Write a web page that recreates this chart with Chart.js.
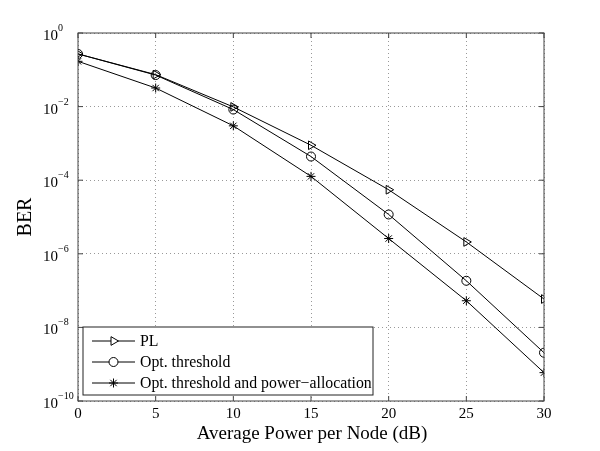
<!DOCTYPE html>
<html>
<head>
<meta charset="utf-8">
<script src="https://cdn.jsdelivr.net/npm/chart.js@4.4.1/dist/chart.umd.min.js"></script>
<style>
  html, body { margin: 0; padding: 0; background: #fff; }
  #wrap { width: 600px; height: 451px; position: relative; }
</style>
</head>
<body>
<div id="wrap"><canvas id="myChart"></canvas></div>
<script>
// datos
let powerDb = [0, 5, 10, 15, 20, 25, 30];
let berPL = [0.27, 0.074, 0.0098, 8.9e-4, 5.5e-5, 2.1e-6, 5.9e-8];
let berOpt = [0.27, 0.072, 0.0083, 4.4e-4, 1.17e-5, 1.85e-7, 2.05e-9];
let berOptPA = [0.17, 0.032, 0.003, 1.27e-4, 2.6e-6, 5.3e-8, 5.9e-10];
let seriesNames = ['PL', 'Opt. threshold', 'Opt. threshold and power\u2212allocation'];
let xTicks = [0, 5, 10, 15, 20, 25, 30];
let yExponents = [0, -2, -4, -6, -8, -10];

const ctx = document.getElementById('myChart');
const serif = '"Liberation Serif", "DejaVu Serif", serif';

function toPoints(ys) {
  return powerDb.map((x, i) => ({ x: x, y: ys[i] }));
}

function serie(label, ys, style, radius, rot) {
  return {
    label: label,
    data: toPoints(ys),
    borderColor: '#000',
    borderWidth: 1,
    pointStyle: style,
    pointRadius: radius,
    pointRotation: rot,
    pointBorderColor: '#000',
    pointBorderWidth: 1,
    pointBackgroundColor: 'rgba(0,0,0,0)',
    fill: false,
    tension: 0
  };
}

/* Marco, marcas, etiquetas y leyenda */
const decoracion = {
  id: 'decoracion',
  afterDraw(chart) {
    const c = chart.ctx;
    const a = chart.chartArea;
    const xs = chart.scales.x;
    const ys = chart.scales.y;
    c.save();

    // caja
    c.strokeStyle = '#444';
    c.lineWidth = 1;
    c.strokeRect(a.left, a.top, a.right - a.left, a.bottom - a.top);

    // marcas interiores
    c.beginPath();
    xTicks.forEach(v => {
      let px = xs.getPixelForValue(v);
      c.moveTo(px, a.bottom); c.lineTo(px, a.bottom - 5);
      c.moveTo(px, a.top); c.lineTo(px, a.top + 5);
    });
    yExponents.forEach(e => {
      let py = ys.getPixelForValue(Math.pow(10, e));
      c.moveTo(a.left, py); c.lineTo(a.left + 5, py);
      c.moveTo(a.right, py); c.lineTo(a.right - 5, py);
    });
    c.stroke();

    // etiquetas eje x
    c.fillStyle = '#000';
    c.font = '15px ' + serif;
    c.textAlign = 'center';
    c.textBaseline = 'middle';
    xTicks.forEach(v => {
      c.fillText(String(v), xs.getPixelForValue(v), a.bottom + 13);
    });

    // etiquetas eje y (10 con exponente)
    yExponents.forEach(e => {
      let py = ys.getPixelForValue(Math.pow(10, e));
      c.textAlign = 'left';
      c.textBaseline = 'alphabetic';
      c.font = '15px ' + serif;
      c.fillText('10', 43, py + 7);
      c.font = '10px ' + serif;
      let txt = e < 0 ? '\u2212' + Math.abs(e) : String(e);
      c.fillText(txt, 58, py - 2);
    });

    // titulos
    c.font = '19px ' + serif;
    c.textAlign = 'center';
    c.textBaseline = 'middle';
    c.fillText('Average Power per Node (dB)', (a.left + a.right) / 2 + 1, 434);
    c.save();
    c.translate(26, (a.top + a.bottom) / 2);
    c.rotate(-Math.PI / 2);
    c.font = '20px ' + serif;
    c.fillText('BER', 0, 0);
    c.restore();

    // leyenda
    let lx = 83, ly = 327, lw = 290, lh = 68;
    c.fillStyle = '#fff';
    c.fillRect(lx, ly, lw, lh);
    c.strokeStyle = '#222';
    c.strokeRect(lx, ly, lw, lh);
    let rows = [341, 362, 383];
    chart.data.datasets.forEach((ds, i) => {
      let yy = rows[i];
      c.strokeStyle = '#000';
      c.lineWidth = 1;
      c.beginPath();
      c.moveTo(92, yy); c.lineTo(135, yy);
      c.stroke();
      c.fillStyle = '#fff';
      Chart.helpers.drawPoint(c, {
        pointStyle: ds.pointStyle,
        radius: ds.pointRadius,
        rotation: ds.pointRotation,
        borderWidth: 1
      }, 113.5, yy);
      c.fillStyle = '#000';
      c.font = '15.8px ' + serif;
      c.textAlign = 'left';
      c.textBaseline = 'middle';
      c.fillText(ds.label, 140, yy + 1);
    });
    c.restore();
  }
};

function start_chart() {
  const config = {
    type: 'line',
    data: {
      datasets: [
        serie(seriesNames[0], berPL, 'triangle', 5, 90),
        serie(seriesNames[1], berOpt, 'circle', 4.5, 0),
        serie(seriesNames[2], berOptPA, 'star', 4.5, 0)
      ]
    },
    options: {
      responsive: false,
      animation: false,
      devicePixelRatio: 1,
      layout: { padding: { left: 78, right: 56, top: 33, bottom: 50 } },
      plugins: { legend: { display: false }, tooltip: { enabled: false } },
      scales: {
        x: {
          type: 'linear',
          min: 0,
          max: 30,
          ticks: { stepSize: 5, display: false },
          grid: { color: '#999', drawTicks: false, lineWidth: 1 },
          border: { display: false, dash: [1, 3] }
        },
        y: {
          type: 'logarithmic',
          min: 1e-10,
          max: 1,
          afterBuildTicks: function (scale) {
            scale.ticks = yExponents.map(e => ({ value: Math.pow(10, e) }));
          },
          ticks: { display: false },
          grid: { color: '#999', drawTicks: false, lineWidth: 1 },
          border: { display: false, dash: [1, 3] }
        }
      }
    },
    plugins: [decoracion]
  };
  ctx.width = 600;
  ctx.height = 451;
  new Chart(ctx, config);
}

window.addEventListener('load', start_chart);
</script>
</body>
</html>
